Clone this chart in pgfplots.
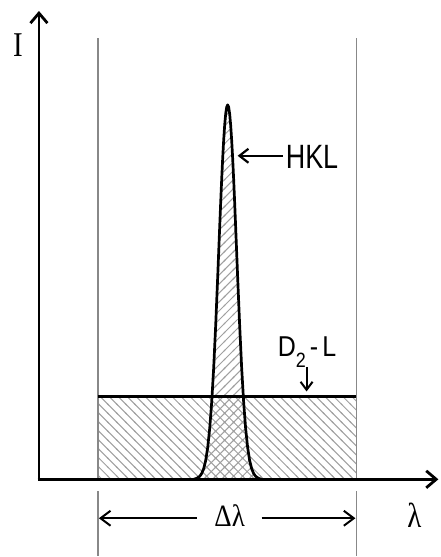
\documentclass[border=0pt]{standalone}
\usepackage{pgfplots}
\pgfplotsset{compat=1.18}
\usepackage{graphicx}
\usepackage{fontspec}
\setmainfont{Liberation Serif}
\setsansfont{Liberation Sans}
\usetikzlibrary{patterns,arrows.meta}
\definecolor{vgray}{HTML}{888888}
\definecolor{hgray}{HTML}{A0A0A0}
\pgfdeclarepatternformonly{nwl}{\pgfqpoint{-1pt}{-1pt}}{\pgfqpoint{10pt}{10pt}}{\pgfqpoint{9pt}{9pt}}{%
  \pgfsetlinewidth{1pt}\pgfpathmoveto{\pgfqpoint{-1pt}{10pt}}\pgfpathlineto{\pgfqpoint{10pt}{-1pt}}\pgfusepath{stroke}}
\pgfdeclarepatternformonly{nel}{\pgfqpoint{-1pt}{-1pt}}{\pgfqpoint{10pt}{10pt}}{\pgfqpoint{9pt}{9pt}}{%
  \pgfsetlinewidth{1pt}\pgfpathmoveto{\pgfqpoint{-1pt}{-1pt}}\pgfpathlineto{\pgfqpoint{10pt}{10pt}}\pgfusepath{stroke}}

\begin{document}
\begin{tikzpicture}
\begin{axis}[
  x=1pt, y=1pt, hide axis, clip=false, scale only axis,
  xmin=-39, xmax=401, ymin=-77, ymax=480,
]
\path (rel axis cs:0,0) rectangle (rel axis cs:1,1);
% D2 lamp continuum (hatched rectangle)
\addplot[draw=none, pattern=nwl, pattern color=hgray]
  coordinates {(59,83) (318,83)} \closedcycle;
% HKL peak hatch
\addplot[draw=none, pattern=nel, pattern color=hgray]
  coordinates {
  (155,0) (158,1.0) (161,3.0) (163,5.8) (165,10.7) (167,18.9) (169,31.8) (171,50.8)
  (173,77.2) (175,111.8) (177,154.2) (179,202.3) (181,252.6) (182,277.1) (183,300.3)
  (184,321.4) (185,339.7) (186,354.7) (187,365.9) (188,372.7) (189,375)
  (190,372.7) (191,365.9) (192,354.7) (193,339.7) (194,321.4) (195,300.3) (196,277.1)
  (197,252.6) (199,202.3) (201,154.2) (203,111.8) (205,77.2) (207,50.8) (209,31.8)
  (211,18.9) (213,10.7) (215,5.8) (217,3.0) (220,1.0) (223,0)
  } \closedcycle;
% vertical gray lines
\addplot[vgray, line width=1.6pt] coordinates {(59,0) (59,442)};
\addplot[vgray, line width=1.6pt] coordinates {(318,0) (318,442)};
\addplot[vgray, line width=1.6pt] coordinates {(59,-12) (59,-77)};
\addplot[vgray, line width=1.6pt] coordinates {(318,-12) (318,-77)};
% D2 level line
\addplot[black, line width=2.2pt] coordinates {(59,83) (318,83)};
% HKL peak outline
\addplot[black, line width=2.7pt, line join=round] coordinates {
  (155,0) (158,1.0) (161,3.0) (163,5.8) (165,10.7) (167,18.9) (169,31.8) (171,50.8)
  (173,77.2) (175,111.8) (177,154.2) (179,202.3) (181,252.6) (182,277.1) (183,300.3)
  (184,321.4) (185,339.7) (186,354.7) (187,365.9) (188,372.7) (189,375)
  (190,372.7) (191,365.9) (192,354.7) (193,339.7) (194,321.4) (195,300.3) (196,277.1)
  (197,252.6) (199,202.3) (201,154.2) (203,111.8) (205,77.2) (207,50.8) (209,31.8)
  (211,18.9) (213,10.7) (215,5.8) (217,3.0) (220,1.0) (223,0)
  };
% axes
\addplot[black, line width=2.8pt, -{Straight Barb[length=10pt,width=17pt]}] coordinates {(-1.4,0) (400,0)};
\addplot[black, line width=2.8pt, -{Straight Barb[length=10pt,width=17pt]}] coordinates {(0,-1.4) (0,469)};
% annotation arrows
\addplot[black, line width=2.2pt, -{Straight Barb[length=9pt,width=14pt]}] coordinates {(244,324) (199,324)};
\addplot[black, line width=2pt, -{Straight Barb[length=8pt,width=12pt]}] coordinates {(268,112) (268,88)};
\addplot[black, line width=2pt, -{Straight Barb[length=10pt,width=15pt]}] coordinates {(158,-39) (60,-39)};
\addplot[black, line width=2pt, -{Straight Barb[length=10pt,width=15pt]}] coordinates {(223,-39) (317,-39)};
% labels
\node[anchor=base] at (axis cs:-21,423) {\scalebox{1}[1.2]{\fontsize{29}{30}\selectfont I}};
\node[anchor=base] at (axis cs:376,-48) {\scalebox{1}[1.2]{\fontsize{29}{30}\selectfont λ}};
\node[anchor=base] at (axis cs:191,-47) {\scalebox{1}[1.15]{\fontsize{27}{30}\selectfont Δλ}};
\node[anchor=base west, inner sep=0pt] at (axis cs:247,311) {\scalebox{1}[1.25]{\sffamily\fontsize{27}{30}\selectfont HKL}};
\node[anchor=base, inner sep=0pt] at (axis cs:268.5,123) {\scalebox{1}[1.15]{\sffamily\fontsize{25}{28}\selectfont D\raisebox{-0.4em}{\fontsize{18}{20}\selectfont 2}\,-\,L}};
\end{axis}
\end{tikzpicture}
\end{document}
